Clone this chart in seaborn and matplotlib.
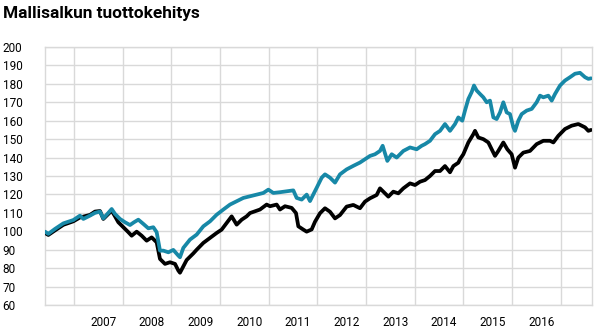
import matplotlib
matplotlib.use("Agg")
import matplotlib.pyplot as plt
import seaborn as sns
import pandas as pd
import numpy as np

# decimal-year positions and index values
teal_t = [2006.404, 2006.472, 2006.610, 2006.781, 2006.986, 2007.123, 2007.192, 2007.329, 2007.432, 2007.534,
          2007.603, 2007.706, 2007.774, 2007.843, 2007.945, 2008.048, 2008.151, 2008.233, 2008.322, 2008.425,
          2008.528, 2008.630, 2008.699, 2008.767, 2008.836, 2008.939, 2009.041, 2009.144, 2009.178, 2009.247,
          2009.384, 2009.521, 2009.658, 2009.795, 2009.932, 2010.069, 2010.206, 2010.343, 2010.480, 2010.617,
          2010.754, 2010.891, 2010.994, 2011.096, 2011.233, 2011.370, 2011.507, 2011.576, 2011.679, 2011.782,
          2011.850, 2011.918, 2011.987, 2012.090, 2012.158, 2012.261, 2012.364, 2012.466, 2012.603, 2012.740,
          2012.877, 2012.980, 2013.083, 2013.186, 2013.288, 2013.343, 2013.439, 2013.529, 2013.631, 2013.768,
          2013.905, 2014.042, 2014.145, 2014.213, 2014.316, 2014.419, 2014.522, 2014.624, 2014.727, 2014.830,
          2014.898, 2014.980, 2015.035, 2015.104, 2015.172, 2015.220, 2015.275, 2015.344, 2015.412, 2015.481,
          2015.549, 2015.618, 2015.686, 2015.755, 2015.823, 2015.892, 2015.960, 2016.029, 2016.063, 2016.131,
          2016.200, 2016.303, 2016.406, 2016.508, 2016.577, 2016.645, 2016.748, 2016.817, 2016.885, 2016.988,
          2017.090, 2017.193, 2017.296, 2017.399, 2017.502, 2017.570, 2017.625]
teal_v = [99.8, 98.6, 101.3, 104.3, 106.1, 108.5, 106.7, 108.5, 110.0, 110.7,
          107.0, 110.0, 112.1, 109.4, 106.7, 104.9, 103.4, 104.9, 106.3, 104.0,
          101.6, 102.2, 99.5, 89.5, 89.5, 88.6, 89.9, 86.8, 85.9, 91.0,
          95.5, 98.2, 102.7, 105.4, 109.0, 111.8, 114.5, 116.3, 118.1, 119.0,
          119.9, 120.8, 122.6, 120.8, 121.2, 121.7, 122.2, 118.1, 117.2, 119.9,
          116.4, 120.0, 123.6, 129.1, 130.9, 129.1, 126.4, 130.9, 133.6, 135.5,
          137.3, 139.1, 140.9, 141.8, 143.6, 146.4, 138.2, 141.8, 140.0, 143.6,
          145.5, 144.5, 146.4, 147.3, 149.1, 152.7, 154.5, 158.2, 154.5, 158.2,
          161.8, 160.0, 165.5, 171.8, 175.5, 179.1, 176.4, 174.5, 172.7, 170.0,
          170.9, 161.8, 160.9, 164.5, 170.0, 164.5, 163.6, 156.4, 154.5, 160.0,
          163.6, 165.5, 166.4, 170.0, 173.6, 172.7, 173.6, 170.9, 174.5, 179.1,
          181.8, 183.6, 185.5, 186.0, 183.6, 182.7, 183.0]

black_t = [2006.404, 2006.472, 2006.610, 2006.781, 2006.986, 2007.123, 2007.329, 2007.432, 2007.534, 2007.603,
           2007.706, 2007.774, 2007.843, 2007.911, 2008.014, 2008.117, 2008.185, 2008.288, 2008.391, 2008.493,
           2008.596, 2008.699, 2008.767, 2008.870, 2008.973, 2009.076, 2009.144, 2009.178, 2009.315, 2009.452,
           2009.521, 2009.658, 2009.795, 2009.932, 2010.034, 2010.137, 2010.240, 2010.343, 2010.446, 2010.548,
           2010.617, 2010.822, 2010.959, 2011.028, 2011.165, 2011.233, 2011.336, 2011.473, 2011.562, 2011.610,
           2011.713, 2011.781, 2011.884, 2011.953, 2012.055, 2012.158, 2012.261, 2012.364, 2012.466, 2012.603,
           2012.740, 2012.877, 2012.980, 2013.083, 2013.220, 2013.288, 2013.357, 2013.460, 2013.562, 2013.665,
           2013.768, 2013.905, 2014.008, 2014.111, 2014.213, 2014.316, 2014.419, 2014.522, 2014.624, 2014.727,
           2014.796, 2014.898, 2014.933, 2015.001, 2015.104, 2015.207, 2015.241, 2015.309, 2015.412, 2015.515,
           2015.584, 2015.652, 2015.720, 2015.823, 2015.905, 2015.994, 2016.063, 2016.131, 2016.234, 2016.371,
           2016.508, 2016.645, 2016.782, 2016.851, 2016.953, 2017.090, 2017.227, 2017.364, 2017.433, 2017.502,
           2017.570, 2017.625]
black_v = [99.1, 98.0, 100.5, 103.5, 105.4, 107.5, 108.9, 110.7, 111.0, 106.7,
           109.4, 111.2, 108.1, 104.9, 102.2, 99.5, 97.6, 99.8, 97.6, 94.9,
           96.7, 94.0, 85.0, 82.3, 83.2, 82.3, 78.7, 77.5, 84.4, 88.0,
           90.0, 93.7, 96.4, 99.1, 100.9, 104.5, 108.1, 103.6, 106.3, 108.1,
           109.9, 111.8, 114.5, 113.6, 114.5, 111.8, 113.6, 112.7, 109.9, 102.7,
           100.9, 99.8, 101.0, 105.2, 109.8, 112.5, 110.6, 107.0, 108.8, 113.4,
           114.3, 112.5, 116.1, 117.9, 119.7, 123.3, 121.5, 118.8, 121.5, 120.6,
           123.3, 126.0, 125.1, 126.9, 127.8, 130.0, 132.7, 132.7, 135.4, 132.0,
           135.4, 137.2, 139.1, 141.8, 148.2, 152.7, 154.5, 150.9, 150.0, 148.2,
           144.5, 140.9, 143.6, 148.2, 144.5, 141.8, 134.5, 140.0, 142.7, 143.6,
           147.3, 149.1, 149.1, 148.2, 151.8, 155.5, 157.3, 158.2, 157.3, 156.4,
           154.5, 155.0]

y_ticks = list(range(60, 201, 10))
year_labels = ["2007", "2008", "2009", "2010", "2011", "2012", "2013", "2014", "2015", "2016"]
title = "Mallisalkun tuottokehitys"

sns.set_style("white")
plt.rcParams['font.family'] = ['Roboto', 'DejaVu Sans']

W, H = 599, 334
fig = plt.figure(figsize=(W / 100, H / 100), dpi=100)
ax = fig.add_axes([45 / W, 1 - 305 / H, 546.7 / W, 258 / H])

grid_c = "#d9d9d9"
df_b = pd.DataFrame({"t": black_t, "v": black_v})
df_t = pd.DataFrame({"t": teal_t, "v": teal_v})
sns.lineplot(data=df_b, x="t", y="v", ax=ax, color="#000000", linewidth=2.7, zorder=3)
sns.lineplot(data=df_t, x="t", y="v", ax=ax, color="#1788a7", linewidth=2.7, zorder=4)

ax.set_xlim(2006.404, 2017.639)
ax.set_ylim(60, 200)
ax.set_yticks(y_ticks)
ax.set_yticklabels([str(v) for v in y_ticks])
ax.set_xticks(list(range(2007, 2018)))
ax.set_xticklabels([])
ax.set_xticks([int(y) + 0.6 for y in year_labels], minor=True)
ax.set_xticklabels(year_labels, minor=True)
ax.grid(True, which="major", color=grid_c, linewidth=1.0)
ax.set_axisbelow(True)
for s in ax.spines.values():
    s.set_color(grid_c)
    s.set_linewidth(1.0)
ax.tick_params(axis="both", which="both", length=0, labelsize=8.5, colors="#000000")
ax.tick_params(axis="y", pad=30.5)
for lab in ax.get_yticklabels():
    lab.set_horizontalalignment("left")
ax.tick_params(axis="x", which="minor", pad=8)
ax.set_xlabel("")
ax.set_ylabel("")

fig.text(3 / W, 1 - 13.3 / H, title, fontsize=12.4, fontweight="bold", ha="left", va="center", color="#000000")

fig.savefig("out.png", dpi=100)
